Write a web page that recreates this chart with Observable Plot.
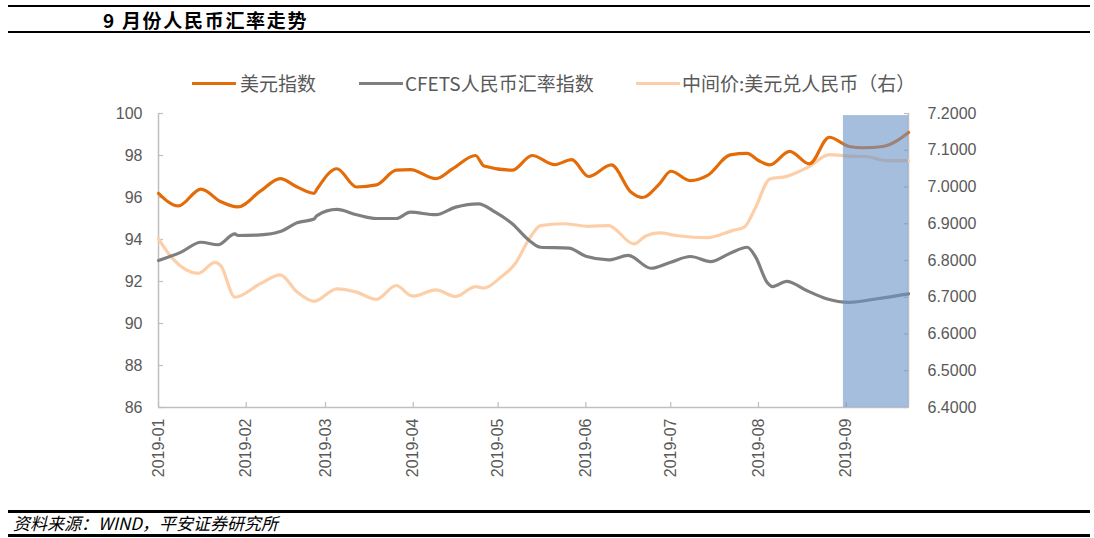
<!DOCTYPE html>
<html>
<head>
<meta charset="utf-8">
<script src="https://cdn.jsdelivr.net/npm/d3@7"></script>
<script src="https://cdn.jsdelivr.net/npm/@observablehq/plot@0.6"></script>
<style>
  html, body { margin: 0; padding: 0; background: #fff; }
  #page { position: relative; width: 1094px; height: 538px; overflow: hidden; font-family: "Noto Sans CJK SC", "Noto Sans", sans-serif; }
  .hline { position: absolute; left: 8px; width: 1082px; background: #000; }
  #title { position: absolute; left: 103px; top: 7px; font-size: 19px; font-weight: bold; line-height: 26px; color: #000; letter-spacing: 1.7px; white-space: nowrap; }
  #legend { position: absolute; top: 70px; left: 0; height: 26px; width: 1094px; font-size: 19px; color: #595959; line-height: 26px; }
  .item { position: absolute; top: 0; white-space: nowrap; }
  .sw { position: absolute; width: 44px; height: 3px; top: 12px; }
  #footer { position: absolute; left: 13px; top: 511px; font-size: 17px; font-style: italic; line-height: 24px; color: #000; white-space: nowrap; }
  #chart { position: absolute; left: 0; top: 0; }
</style>
</head>
<body>
<div id="page">
  <div class="hline" style="top:5px;height:2px"></div>
  <div id="title">9 月份人民币汇率走势</div>
  <div class="hline" style="top:31px;height:2px"></div>
  <div id="legend"></div>
  <div id="chart"></div>
  <div class="hline" style="top:510px;height:2.5px"></div>
  <div id="footer">资料来源：WIND，平安证券研究所</div>
  <div class="hline" style="top:534px;height:2.5px"></div>
</div>
<script>
// ---------------- data ----------------
const seriesNames = ["美元指数", "CFETS人民币汇率指数", "中间价:美元兑人民币（右）"];
const seriesColors = ["#e36c09", "#7f7f7f", "#fdcfa8"];

const usdDates = ["2019-01-01","2019-01-08","2019-01-16","2019-01-23","2019-01-29","2019-02-06","2019-02-13","2019-02-19","2019-02-25","2019-02-26","2019-03-05","2019-03-12","2019-03-19","2019-03-26","2019-03-31","2019-04-09","2019-04-15","2019-04-23","2019-04-26","2019-05-06","2019-05-13","2019-05-21","2019-05-27","2019-06-02","2019-06-10","2019-06-17","2019-06-21","2019-06-27","2019-07-01","2019-07-08","2019-07-14","2019-07-22","2019-07-28","2019-08-01","2019-08-05","2019-08-12","2019-08-19","2019-08-26","2019-09-02","2019-09-07","2019-09-14","2019-09-23"];
const usdValues = [96.2,95.6,96.4,95.8,95.55,96.3,96.9,96.5,96.2,96.4,97.37,96.5,96.6,97.3,97.33,96.9,97.37,98.0,97.5,97.3,98.0,97.57,97.8,97.0,97.55,96.25,96.0,96.65,97.25,96.8,97.05,98.03,98.1,97.76,97.55,98.2,97.6,98.87,98.43,98.37,98.43,99.1];

const cfetsDates = ["2019-01-01","2019-01-09","2019-01-16","2019-01-22","2019-01-28","2019-01-29","2019-02-06","2019-02-13","2019-02-19","2019-02-25","2019-02-26","2019-03-05","2019-03-12","2019-03-19","2019-03-26","2019-03-31","2019-04-09","2019-04-16","2019-04-24","2019-04-30","2019-05-06","2019-05-12","2019-05-16","2019-05-26","2019-06-01","2019-06-09","2019-06-16","2019-06-24","2019-07-01","2019-07-08","2019-07-15","2019-07-22","2019-07-28","2019-07-31","2019-08-04","2019-08-06","2019-08-11","2019-08-18","2019-08-25","2019-09-02","2019-09-12","2019-09-23"];
const cfetsValues = [93.0,93.4,93.87,93.75,94.27,94.19,94.22,94.38,94.8,94.98,95.14,95.43,95.18,95.0,95.0,95.3,95.18,95.54,95.7,95.3,94.75,93.95,93.63,93.59,93.2,93.03,93.24,92.63,92.92,93.19,92.95,93.35,93.63,93.16,91.97,91.76,92.01,91.57,91.18,91.01,91.18,91.41];

const cnyDates = ["2019-01-01","2019-01-06","2019-01-15","2019-01-21","2019-01-23","2019-01-28","2019-02-06","2019-02-13","2019-02-19","2019-02-25","2019-03-05","2019-03-12","2019-03-19","2019-03-26","2019-03-31","2019-04-01","2019-04-09","2019-04-16","2019-04-23","2019-04-26","2019-05-02","2019-05-07","2019-05-12","2019-05-16","2019-05-24","2019-06-02","2019-06-09","2019-06-18","2019-06-22","2019-06-27","2019-07-03","2019-07-14","2019-07-23","2019-07-27","2019-07-31","2019-08-05","2019-08-11","2019-08-19","2019-08-26","2019-09-02","2019-09-08","2019-09-15","2019-09-23"];
const cnyValues = [6.859,6.805,6.765,6.795,6.786,6.700,6.737,6.761,6.714,6.689,6.723,6.714,6.694,6.732,6.705,6.703,6.720,6.702,6.729,6.725,6.755,6.791,6.859,6.895,6.900,6.893,6.895,6.845,6.866,6.875,6.868,6.862,6.882,6.891,6.945,7.022,7.029,7.056,7.088,7.084,7.083,7.072,7.072];

const leftTicks = [86, 88, 90, 92, 94, 96, 98, 100];
const rightTicks = [6.4, 6.5, 6.6, 6.7, 6.8, 6.9, 7.0, 7.1, 7.2];
const monthTicks = ["2019-01-01","2019-02-01","2019-03-01","2019-04-01","2019-05-01","2019-06-01","2019-07-01","2019-08-01","2019-09-01"];
const xDomain = ["2019-01-01", "2019-09-23"];
const leftDomain = [86, 100];
const rightDomain = [6.4, 7.2];
const shadeStart = ["2019-08-31"];
const shadeEnd = ["2019-09-23"];
const shadeTop = [99.9];

// ---------------- build ----------------
const parse = d3.utcParse("%Y-%m-%d");
const toLeft = v => leftDomain[0] + (v - rightDomain[0]) / (rightDomain[1] - rightDomain[0]) * (leftDomain[1] - leftDomain[0]);
const toRight = v => rightDomain[0] + (v - leftDomain[0]) / (leftDomain[1] - leftDomain[0]) * (rightDomain[1] - rightDomain[0]);

const usd = usdDates.map((d, i) => ({date: parse(d), v: usdValues[i]}));
const cfets = cfetsDates.map((d, i) => ({date: parse(d), v: cfetsValues[i]}));
const cny = cnyDates.map((d, i) => ({date: parse(d), v: toLeft(cnyValues[i])}));
const months = monthTicks.map(parse);
const rightMapped = rightTicks.map(toLeft);
const shade = shadeStart.map((s, i) => ({x1: parse(s), x2: parse(shadeEnd[i]), y1: leftDomain[0], y2: shadeTop[i]}));
const xd = xDomain.map(parse);

const axisColor = "#bfbfbf";
const textColor = "#595959";

const chart = Plot.plot({
  width: 1094,
  height: 538,
  marginLeft: 158,
  marginRight: 186,
  marginTop: 113,
  marginBottom: 131,
  x: {type: "utc", domain: xd, label: null},
  y: {domain: leftDomain, label: null},
  style: {fontFamily: "'Liberation Sans', Arial, sans-serif", fontSize: "16px", color: textColor, background: "transparent", overflow: "visible"},
  marks: [
    // axis lines
    Plot.ruleX([xd[0]], {stroke: axisColor, strokeWidth: 1.5}),
    Plot.ruleX([xd[1]], {stroke: axisColor, strokeWidth: 1.5}),
    Plot.ruleY([leftDomain[0]], {stroke: axisColor, strokeWidth: 1.5}),
    // inward ticks
    Plot.axisY(leftTicks, {anchor: "left", tickSize: 5, dx: 5, fill: "none", stroke: axisColor, strokeWidth: 1.2, label: null}),
    Plot.axisY(rightMapped, {anchor: "right", tickSize: 5, dx: -5, fill: "none", stroke: axisColor, strokeWidth: 1.2, label: null}),
    Plot.axisX(months, {anchor: "bottom", tickSize: 5, dy: -5, fill: "none", stroke: axisColor, strokeWidth: 1.2, label: null}),
    // tick labels
    Plot.axisY(leftTicks, {anchor: "left", tickSize: 0, tickPadding: 16, fill: textColor, fontSize: 16, label: null}),
    Plot.axisY(rightMapped, {anchor: "right", tickSize: 0, tickPadding: 19, fill: textColor, fontSize: 16, label: null,
      tickFormat: d => toRight(d).toFixed(4)}),
    Plot.axisX(months, {anchor: "bottom", tickSize: 0, tickPadding: 11, tickRotate: -90, fill: textColor, fontSize: 16, label: null,
      tickFormat: d3.utcFormat("%Y-%m")}),
    // series
    Plot.line(cny, {x: "date", y: "v", stroke: seriesColors[2], strokeWidth: 3.2, curve: "monotone-x"}),
    Plot.line(cfets, {x: "date", y: "v", stroke: seriesColors[1], strokeWidth: 3.2, curve: "monotone-x"}),
    Plot.line(usd, {x: "date", y: "v", stroke: seriesColors[0], strokeWidth: 3.2, curve: "monotone-x"}),
    // September highlight
    Plot.rect(shade, {x1: "x1", x2: "x2", y1: "y1", y2: "y2", fill: "#6b93c6", fillOpacity: 0.6})
  ]
});
document.getElementById("chart").appendChild(chart);

// legend
const legendPos = [[192, 240], [359, 405], [636, 682]];
const legend = document.getElementById("legend");
seriesNames.forEach((name, i) => {
  const sw = document.createElement("div");
  sw.className = "sw";
  sw.style.left = legendPos[i][0] + "px";
  sw.style.background = seriesColors[i];
  legend.appendChild(sw);
  const t = document.createElement("div");
  t.className = "item";
  t.style.left = legendPos[i][1] + "px";
  t.textContent = name;
  legend.appendChild(t);
});
</script>
</body>
</html>
